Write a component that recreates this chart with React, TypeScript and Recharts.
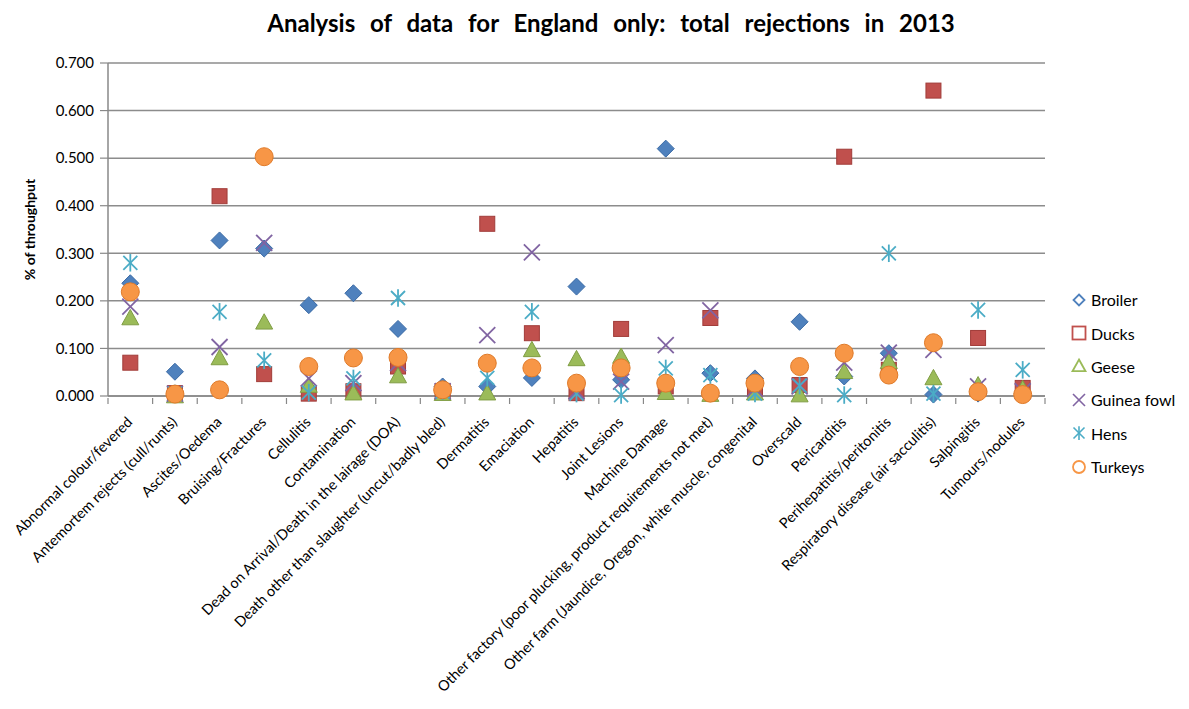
import React from 'react';
import { ComposedChart, Line, XAxis, YAxis, CartesianGrid, Legend, Label } from 'recharts';

const FONT = 'Lato, "Open Sans", sans-serif';

const categories = [
  'Abnormal colour/fevered',
  'Antemortem rejects (cull/runts)',
  'Ascites/Oedema',
  'Bruising/Fractures',
  'Cellulitis',
  'Contamination',
  'Dead on Arrival/Death in the lairage (DOA)',
  'Death other than slaughter (uncut/badly bled)',
  'Dermatitis',
  'Emaciation',
  'Hepatitis',
  'Joint Lesions',
  'Machine Damage',
  'Other factory (poor plucking, product requirements not met)',
  'Other farm (Jaundice, Oregon, white muscle, congenital',
  'Overscald',
  'Pericarditis',
  'Perihepatitis/peritonitis',
  'Respiratory disease (air sacculitis)',
  'Salpingitis',
  'Tumours/nodules',
];

const broiler = [0.237, 0.051, 0.327, 0.31, 0.191, 0.216, 0.141, 0.02, 0.02, 0.038, 0.23, 0.034, 0.52, 0.048, 0.037, 0.156, 0.041, 0.09, 0.003, 0.005, 0.005];
const ducks = [0.07, 0.006, 0.42, 0.046, 0.005, 0.01, 0.062, 0.01, 0.362, 0.132, 0.006, 0.141, 0.02, 0.164, 0.017, 0.023, 0.503, 0.055, 0.642, 0.122, 0.017];
const geese = [0.164, 0.0, 0.08, 0.155, 0.022, 0.006, 0.042, 0.005, 0.006, 0.097, 0.078, 0.083, 0.007, 0.003, 0.006, 0.002, 0.051, 0.072, 0.038, 0.023, 0.015];
const guineaFowl = [0.188, 0.005, 0.103, 0.322, 0.037, 0.027, 0.069, 0.01, 0.128, 0.302, 0.01, 0.03, 0.107, 0.18, 0.015, 0.02, 0.07, 0.091, 0.097, 0.02, 0.01];
const hens = [0.28, 0.005, 0.177, 0.075, 0.007, 0.037, 0.206, 0.01, 0.038, 0.177, 0.005, 0.002, 0.058, 0.044, 0.005, 0.022, 0.002, 0.3, 0.005, 0.181, 0.055];
const turkeys = [0.219, 0.004, 0.013, 0.503, 0.062, 0.08, 0.081, 0.013, 0.069, 0.059, 0.027, 0.059, 0.027, 0.006, 0.027, 0.062, 0.09, 0.044, 0.112, 0.009, 0.003];

const yTicks = [0, 0.1, 0.2, 0.3, 0.4, 0.5, 0.6, 0.7];

const series = [
  { key: 'broiler', name: 'Broiler', color: '#4f81bd', shape: 'diamond' },
  { key: 'ducks', name: 'Ducks', color: '#c0504d', shape: 'square' },
  { key: 'geese', name: 'Geese', color: '#9bbb59', shape: 'triangle' },
  { key: 'guineaFowl', name: 'Guinea fowl', color: '#8064a2', shape: 'x' },
  { key: 'hens', name: 'Hens', color: '#4bacc6', shape: 'star' },
  { key: 'turkeys', name: 'Turkeys', color: '#f79646', shape: 'circle' },
];

const rows = categories.map((name, i) => ({
  idx: i,
  name,
  broiler: broiler[i],
  ducks: ducks[i],
  geese: geese[i],
  guineaFowl: guineaFowl[i],
  hens: hens[i],
  turkeys: turkeys[i],
}));

// label positions at integers, category boundary tick marks at halves
const xTicks: number[] = [];
for (let i = 0; i <= categories.length; i++) {
  xTicks.push(i - 0.5);
  if (i < categories.length) xTicks.push(i);
}

const darker: Record<string, string> = {
  '#4f81bd': '#3a6aa5',
  '#c0504d': '#a13c39',
  '#9bbb59': '#7f9d43',
  '#8064a2': '#8064a2',
  '#4bacc6': '#4bacc6',
  '#f79646': '#e07a28',
};

const Marker = ({ cx, cy, shape, color, legend }: any) => {
  const fill = legend ? 'none' : color;
  const stroke = legend ? color : darker[color];
  const sw = legend ? 1.8 : 1;
  if (shape === 'diamond') {
    const r = legend ? 5.5 : 8.5;
    return <polygon points={`${cx},${cy - r} ${cx + r},${cy} ${cx},${cy + r} ${cx - r},${cy}`} fill={fill} stroke={stroke} strokeWidth={sw} />;
  }
  if (shape === 'square') {
    const h = legend ? 6.5 : 7.5;
    return <rect x={cx - h} y={cy - h} width={h * 2} height={h * 2} fill={fill} stroke={stroke} strokeWidth={sw} />;
  }
  if (shape === 'triangle') {
    const h = legend ? 6.5 : 8.5;
    return <polygon points={`${cx},${cy - h} ${cx + h},${cy + h * 0.8} ${cx - h},${cy + h * 0.8}`} fill={fill} stroke={stroke} strokeWidth={sw} />;
  }
  if (shape === 'x') {
    const h = legend ? 6 : 8;
    return (
      <g stroke={color} strokeWidth={legend ? 1.6 : 1.8}>
        <line x1={cx - h} y1={cy - h} x2={cx + h} y2={cy + h} />
        <line x1={cx - h} y1={cy + h} x2={cx + h} y2={cy - h} />
      </g>
    );
  }
  if (shape === 'star') {
    const h = legend ? 5.5 : 7;
    return (
      <g stroke={color} strokeWidth={legend ? 1.6 : 1.8}>
        <line x1={cx - h} y1={cy - h} x2={cx + h} y2={cy + h} />
        <line x1={cx - h} y1={cy + h} x2={cx + h} y2={cy - h} />
        <line x1={cx} y1={cy - h * 1.25} x2={cx} y2={cy + h * 1.25} />
      </g>
    );
  }
  const r = legend ? 6 : 9;
  return <circle cx={cx} cy={cy} r={r} fill={fill} stroke={stroke} strokeWidth={sw} />;
};

const XTick = ({ x, y, payload }: any) => {
  const v = payload.value;
  if (!Number.isInteger(v)) {
    return <line x1={x} y1={y} x2={x} y2={y + 6} stroke="#888" strokeWidth={1.2} />;
  }
  const tx = x + 3;
  const ty = y + 25;
  return (
    <text x={tx} y={ty} textAnchor="end" transform={`rotate(-45, ${tx}, ${ty})`} fontSize={14.5} fontFamily={FONT} fill="#000">
      {categories[v]}
    </text>
  );
};

const LegendBox = () => (
  <div style={{ fontFamily: FONT, fontSize: 16, color: '#000' }}>
    {series.map((s) => (
      <div key={s.key} style={{ display: 'flex', alignItems: 'center', height: 33.4 }}>
        <svg width={18} height={18} style={{ marginRight: 3 }}>
          <Marker cx={9} cy={9} shape={s.shape} color={s.color} legend />
        </svg>
        <span>{s.name}</span>
      </div>
    ))}
  </div>
);

export default function App() {
  return (
    <div style={{ position: 'relative', width: 1173, height: 693 }}>
      <div
        style={{
          position: 'absolute',
          left: 603,
          top: 0,
          transform: 'translateX(-50%)',
          whiteSpace: 'nowrap',
          fontFamily: FONT,
          fontWeight: 700,
          fontSize: 24,
          wordSpacing: 9,
          color: '#000',
        }}
      >
        Analysis of data for England only: total rejections in 2013
      </div>
      <ComposedChart width={1173} height={693} data={rows} margin={{ top: 55, right: 136, bottom: 0, left: 0 }}>
        <CartesianGrid vertical={false} stroke="#8c8c8c" strokeWidth={1.5} />
        <XAxis
          type="number"
          dataKey="idx"
          domain={[-0.5, categories.length - 0.5]}
          ticks={xTicks}
          interval={0}
          tick={<XTick />}
          tickLine={false}
          tickSize={0}
          axisLine={{ stroke: '#888', strokeWidth: 1.5 }}
          height={305}
          allowDecimals
        />
        <YAxis
          type="number"
          domain={[0, 0.7]}
          ticks={yTicks}
          interval={0}
          width={100}
          tickFormatter={(v: number) => v.toFixed(3)}
          tick={{ fill: '#000', fontSize: 15, fontFamily: FONT }}
          tickSize={8}
          tickMargin={6}
          tickLine={{ stroke: '#888', strokeWidth: 1.2 }}
          axisLine={{ stroke: '#888', strokeWidth: 1.5 }}
        >
          <Label
            value="% of throughput"
            angle={-90}
            position="insideLeft"
            offset={22}
            style={{ textAnchor: 'middle', fontWeight: 700, fontSize: 14, fontFamily: FONT, fill: '#000' }}
          />
        </YAxis>
        {series.map((s) => (
          <Line
            key={s.key}
            dataKey={s.key}
            name={s.name}
            stroke="none"
            isAnimationActive={false}
            activeDot={false}
            dot={(p: any) => <Marker key={`${s.key}-${p.index}`} cx={p.cx} cy={p.cy} shape={s.shape} color={s.color} />}
          />
        ))}
        <Legend
          layout="vertical"
          align="center"
          verticalAlign="middle"
          content={<LegendBox />}
          wrapperStyle={{ position: 'absolute', left: 1062, top: 275, width: 110 }}
        />
      </ComposedChart>
    </div>
  );
}
